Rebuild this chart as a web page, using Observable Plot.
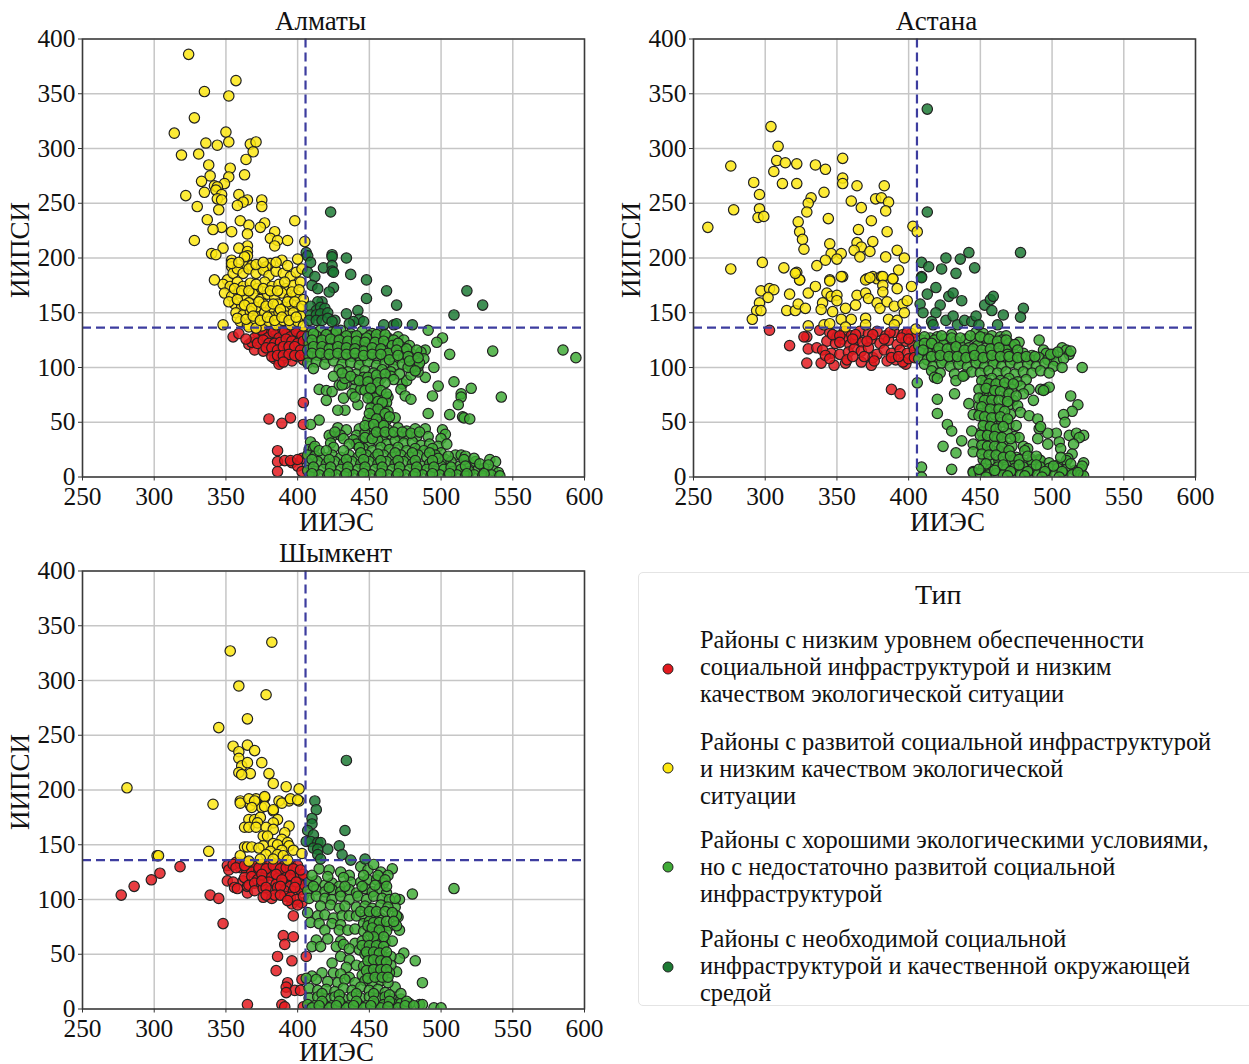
<!DOCTYPE html>
<html lang="ru"><head><meta charset="utf-8">
<script src="https://cdn.jsdelivr.net/npm/d3@7"></script>
<script src="https://cdn.jsdelivr.net/npm/@observablehq/plot@0.6"></script>
<style>
html,body{margin:0;padding:0;background:#fff;overflow:hidden}
#page{position:relative;width:1249px;height:1064px;overflow:hidden;font-family:"Liberation Serif",serif;color:#111}
#page svg.panel{position:absolute;overflow:visible;background:transparent}
#legend{position:absolute;left:638px;top:572px;width:640px;height:434px;border:1px solid #e4e4e4;border-radius:5px;box-sizing:border-box}
.lt{position:absolute;white-space:nowrap;font-size:24.4px;line-height:27px;transform:translateY(-50%)}
.sw{position:absolute;width:9px;height:9px;border-radius:50%;border:1px solid #222;transform:translate(-50%,-50%)}
</style></head><body><div id="page"></div>
<script>
const types=["low","yellow","light","dark"];
const typeColors=["#e3191e","#fde70f","#3fab36","#1c7a33"];
const xTicks=[250,300,350,400,450,500,550,600];
const yTicks=[0,50,100,150,200,250,300,350,400];
const legendTitle="Тип";
const legendLabels=[
 ["Районы с низким уровнем обеспеченности","социальной инфраструктурой и низким","качеством экологической ситуации"],
 ["Районы с развитой социальной инфраструктурой","и низким качеством экологической","ситуации"],
 ["Районы с хорошими экологическими условиями,","но с недостаточно развитой социальной","инфраструктурой"],
 ["Районы с необходимой социальной","инфраструктурой и качественной окружающей","средой"]];

const almatyRed=[355,128,359,131,366,121,370,116,368,123,372,132,376,128,380,133,384,129,388,134,392,130,396,133,400,130,404,132,
374,124,378,120,382,125,386,121,390,126,394,122,398,126,402,122,380,116,384,112,388,117,392,113,396,117,400,114,404,118,
384,108,388,105,392,109,396,106,400,110,404,107,387,103,376,115,378,130,370,127,364,126,402,128,405,112,
375,134,379,127,383,132,387,127,391,133,395,128,399,133,403,129,372,122,376,125,380,122,384,122,388,123,392,126,396,124,400,122,404,124,
378,118,382,118,386,116,390,119,394,119,398,119,402,116,382,110,386,111,390,111,394,112,398,111,402,111,390,105,
404,68,380,53,389,49,395,54,404,48,386,24,386,14,391,15,396,13,400,10,403,17,386,5,403,5,395,15,400,16];
const almatyYellow=[324,386,357,362,335,352,352,348,328,328,314,314,350,315,352,306,336,305,344,303,367,304,371,306,369,297,331,295,319,294,364,290,338,285,353,282,363,276,339,275,352,274,333,270,349,268,342,266,344,265,343,262,335,260,347,258,322,257,359,258,344,254,347,253,365,253,375,253,362,251,358,248,375,247,330,247,345,244,337,235,398,234,360,234,377,232,366,230,374,228,347,228,341,226,365,222,354,224,384,224,381,218,386,216,393,216,405,215,328,216,384,211,365,211,348,209,359,209,365,206,340,204,343,203,365,202,363,201,354,198,389,198,400,199,354,192,364,192,368,193,381,195,378,192,
351,180,355,186,358,190,362,186,366,190,371,186,376,189,380,184,385,188,390,186,395,183,399,187,403,190,
348,176,353,174,358,178,362,174,367,177,372,172,377,178,382,174,387,176,392,172,397,175,402,178,342,180,349,168,
354,165,359,168,364,163,369,167,374,162,379,167,384,164,389,168,394,163,399,166,404,162,
356,158,361,156,366,159,371,155,376,158,381,154,386,158,391,155,396,157,401,154,
357,150,362,148,367,151,372,146,377,150,382,146,387,150,392,147,397,150,402,147,
360,142,365,139,370,143,375,138,380,142,385,139,390,143,395,139,400,142,404,138,348,139,366,137,371,136,
356,172,361,170,366,170,371,176,376,172,381,170,386,170,391,178,396,169,401,171,352,160,358,162,363,157,368,154,373,160,378,156,383,158,388,153,393,160,398,160,403,156,
358,145,364,144,369,147,374,143,379,146,384,143,389,146,394,143,399,146,354,195,359,196,371,194,376,196,385,196,393,193];
const almatyLight=[491,134,501,127,497,123,506,112,536,115,585,116,594,109,489,116,495,100,489,91,509,87,498,83,521,81,514,76,514,73,494,74,542,73,512,66,491,58,506,57,515,55,516,54,520,53,468,54,473,85,476,88,472,80,475,74,479,71,479,93,484,96,484,101,480,100,
415,80,420,79,424,78,420,70,429,84,433,85,431,84,432,72,440,81,438,76,442,66,433,61,428,61,415,52,409,48,
410,133,416,134,423,132,430,134,437,131,445,133,452,131,458,133,407,128,413,129,419,127,425,130,431,127,438,128,444,126,450,129,456,126,463,127,470,128,474,125,
408,122,414,123,420,121,426,124,432,121,438,122,444,120,451,123,457,120,463,122,472,119,478,120,
407,116,412,117,418,115,424,118,430,115,436,116,442,113,448,117,454,114,460,116,466,113,474,115,480,112,486,114,
408,110,414,111,420,109,426,112,432,109,438,110,444,107,450,111,456,108,462,110,468,107,474,109,482,106,488,108,
407,104,413,105,419,103,425,106,431,103,437,104,443,102,449,105,455,102,461,104,467,101,473,103,479,101,485,104,
411,99,429,98,435,96,441,94,447,97,453,95,459,98,465,96,471,94,477,100,482,97,425,92,433,90,440,89,446,91,452,88,458,90,465,92,
448,84,455,82,453,78,457,75,460,72,452,70,455,66,460,64,453,60,458,57,452,55,449,52,457,50,462,52,447,85,444,80,440,73,463,73,462,68,463,60,450,76,454,72,
428,45,434,43,443,44,450,46,456,44,463,43,470,45,476,42,482,44,489,44,458,48,424,37,430,38,441,38,447,40,453,38,459,36,465,39,471,37,477,38,483,37,491,37,501,43,503,39,500,35,
422,38,409,32,423,31,444,33,450,31,456,33,462,30,468,33,474,31,480,32,486,29,492,30,498,28,504,30,
408,25,411,26,425,27,446,26,452,24,458,27,464,25,470,27,476,24,482,26,488,24,494,26,500,22,
407,20,412,19,418,18,424,20,430,18,436,20,442,18,448,20,454,18,460,20,466,18,472,20,478,18,484,20,490,18,496,20,503,16,510,20,514,20,517,19,
408,12,414,14,420,12,426,14,432,12,438,14,444,12,450,14,456,12,462,14,468,12,474,14,480,12,486,10,492,12,500,10,507,14,513,10,520,12,524,14,534,16,538,14,
407,6,412,5,418,7,424,5,430,7,436,5,442,7,448,5,454,7,460,5,466,7,472,5,478,7,484,5,490,7,496,5,502,7,508,5,514,7,520,5,526,7,530,8,536,6,540,4,
409,1,415,2,421,1,427,2,433,1,439,2,445,1,451,2,457,1,463,2,469,1,475,2,481,1,487,2,493,1,499,2,505,1,511,2,517,1,523,2,529,1,535,2,541,1,
411,131,420,130,427,133,434,129,441,129,448,127,455,130,461,130,467,125,410,125,417,125,423,126,429,125,435,124,441,124,447,123,454,123,460,124,466,120,470,122,476,117,
411,119,417,119,422,117,428,119,434,118,440,117,446,115,452,118,458,117,463,113,469,116,477,110,483,116,410,113,416,113,422,112,428,113,434,112,440,113,446,111,452,112,458,112,464,107,470,111,478,106,484,109,
431,95,437,92,443,88,449,91,455,93,461,94,467,89,449,87,456,86,461,86,447,79,451,81,458,79,462,76,449,72,456,69,459,68,451,63,456,62,461,58,450,58,455,53,464,55,447,47,453,48,460,47,
439,34,441,30,443,27,447,36,452,35,455,41,461,41,467,41,473,41,479,40,485,41,426,41,432,35,436,30,412,28,415,24,
420,24,432,24,444,22,456,21,468,22,480,22,492,22,498,17,410,16,422,16,434,16,446,16,458,15,470,15,482,15,494,15,505,19,516,16,523,17,
411,9,423,9,435,9,447,9,459,9,471,9,483,9,495,9,507,9,517,10,527,12,533,11,410,3,422,3,434,3,446,3,458,3,470,3,482,3,494,3,506,3,518,3,530,3];
const almatyDark=[423,242,424,203,424,201,434,200,406,205,407,202,409,196,418,191,424,193,424,188,407,187,412,183,425,187,437,185,448,180,410,175,414,172,425,173,422,169,462,170,518,170,448,163,469,157,529,157,509,148,
417,160,414,160,409,156,413,152,416,155,419,154,409,148,413,148,416,149,421,150,408,143,413,143,417,143,421,145,426,143,434,149,442,152,443,144,446,142,439,142,436,140,460,139,467,139,469,140,480,139,424,142];

const astanaRed=[303,134,329,128,327,128,317,120,330,117,336,118,329,104,339,104,338,134,348,102,356,104,367,105,374,102,375,109,398,103,388,80,394,76,
345,132,350,128,355,133,360,129,366,133,372,131,378,133,384,129,390,132,396,130,402,131,405,128,343,124,349,122,354,126,359,121,363,125,368,123,374,126,380,122,386,125,392,121,398,124,403,120,
340,116,346,113,352,112,358,114,362,117,367,115,372,118,378,112,383,116,388,113,394,116,399,113,404,116,342,111,345,108,357,107,361,110,369,110,376,106,385,106,391,107,396,105,400,108,404,109,
347,130,352,129,363,130,375,130,387,132,399,132,352,123,361,126,371,124,383,126,395,127,400,126,388,109,393,110];
const astanaYellow=[260,228,276,284,278,244,276,190,304,320,309,302,308,289,314,287,322,286,306,279,292,269,312,268,322,268,335,285,342,281,354,291,354,273,354,268,296,258,341,260,364,266,383,266,332,255,330,250,360,252,377,254,381,255,386,251,296,245,295,237,299,238,367,246,329,242,384,243,323,233,344,236,374,234,403,229,406,224,324,224,365,226,385,224,326,217,345,213,364,214,375,215,367,210,327,208,346,204,353,204,362,207,373,206,392,207,366,201,384,201,397,200,350,199,342,198,298,196,336,193,313,191,322,187,393,189,345,180,354,183,324,180,371,181,375,183,378,181,381,183,389,181,
297,170,303,172,306,171,302,164,296,159,294,152,297,152,291,144,317,167,315,152,321,152,323,158,328,154,330,168,335,174,324,180,321,186,343,168,340,159,339,153,347,151,345,179,346,165,350,166,350,161,353,183,356,154,364,166,363,157,370,168,370,180,373,182,382,183,382,175,389,181,392,172,372,163,378,159,380,154,385,160,382,169,390,156,396,158,399,161,402,174,397,150,386,144,392,143,370,145,353,144,360,144,330,138,341,139,345,140,356,137,370,139,390,139,405,135];
const astanaLight=[406,86,420,71,420,58,432,76,442,67,427,48,430,42,444,42,437,33,424,28,433,22,445,30,445,23,430,7,409,9,409,0,445,5,513,74,518,66,514,60,508,57,509,50,503,40,497,40,512,38,517,40,522,38,519,36,515,30,505,32,497,30,506,26,514,21,511,17,522,13,
430,130,447,132,452,131,458,129,464,128,468,129,409,125,415,127,420,128,425,126,433,124,440,126,447,126,453,127,459,124,465,125,470,122,477,123,491,125,
407,120,413,119,418,120,424,121,430,118,436,120,442,118,448,120,454,118,460,121,466,117,472,119,
408,114,414,113,420,115,426,112,432,114,438,112,444,115,450,112,456,114,462,113,468,116,474,112,480,113,486,111,494,116,496,113,507,118,510,116,501,112,512,112,
407,108,413,107,419,109,425,106,431,108,437,106,443,109,449,106,455,108,461,106,467,109,473,107,479,109,485,107,491,109,497,107,503,106,508,108,
411,103,417,101,423,104,429,101,435,103,441,101,447,104,453,101,459,103,465,101,471,104,477,101,483,103,489,101,495,104,501,101,507,100,521,100,
416,97,422,95,432,94,439,93,444,96,450,95,456,97,462,95,468,96,474,94,480,96,486,95,492,97,498,95,418,91,420,90,433,88,438,92,454,88,458,90,464,88,470,90,476,87,482,89,
453,84,458,81,466,82,472,80,478,83,484,80,492,80,495,80,498,82,454,76,452,73,456,73,459,75,467,72,473,70,480,76,487,70,494,79,449,65,455,66,461,64,470,66,476,65,445,57,450,58,455,60,460,57,471,57,478,59,484,56,490,53,
453,50,459,48,465,50,470,48,475,47,491,44,492,46,451,41,456,43,463,39,469,40,474,37,477,36,490,35,452,34,457,32,462,35,466,30,472,28,480,28,483,26,452,25,458,24,463,24,468,22,475,18,481,24,486,16,491,16,
452,16,457,14,463,15,469,13,474,15,480,13,486,14,492,15,498,13,504,11,510,15,452,8,457,7,462,9,468,7,474,8,480,9,486,7,492,9,498,8,504,8,510,7,516,6,520,7,
445,4,450,3,456,2,461,3,466,2,472,3,478,2,484,3,490,2,496,3,502,2,508,3,514,2,520,2,522,1,
411,128,418,125,423,129,430,127,436,127,443,129,450,128,456,126,462,124,468,125,474,121,411,122,416,122,421,118,427,117,433,119,439,116,445,117,451,116,457,117,463,118,469,112,476,116,
410,116,416,110,422,111,428,110,434,110,440,109,446,111,452,109,458,111,464,110,470,110,476,109,482,110,488,110,499,112,504,114,513,115,
451,88,456,85,461,85,467,86,473,85,449,80,454,81,460,79,464,78,470,76,449,72,453,70,458,70,463,70,469,69,475,74,451,64,457,62,463,62,467,60,449,56,453,55,458,54,464,55,469,53,
452,47,457,46,461,44,466,46,450,38,455,38,460,37,465,36,471,35,451,29,455,28,460,28,465,27,470,24,451,21,456,20,461,20,466,18,471,19,477,16,483,19,489,19,506,18,
454,12,466,11,477,11,489,11,501,10,513,12,521,10,449,7,460,6,471,5,483,5,495,5,507,5,518,4,454,0,469,1,481,1,493,0,505,0];
const astanaDark=[413,336,413,242,409,196,414,192,423,190,426,200,433,186,436,199,442,205,446,191,478,205,409,183,409,182,419,173,413,167,428,165,431,168,437,161,422,157,408,158,410,150,419,150,416,142,417,139,426,143,431,147,434,139,439,143,444,142,447,147,449,139,453,157,457,162,459,165,458,152,466,148,462,139,480,154,478,146];

const shymkentRed=[277,104,286,112,298,118,304,124,318,130,339,104,345,101,348,78,390,67,397,66,391,59,386,48,406,48,396,44,385,35,393,24,403,27,392,20,398,17,392,15,402,17,365,4,389,4,391,2,404,2,397,85,396,96,403,97,
351,131,352,127,357,134,360,129,367,128,370,128,351,117,355,116,362,117,356,111,358,110,365,106,365,112,
355,132,360,133,365,134,370,130,375,132,380,131,385,133,390,130,395,132,400,131,364,128,368,125,373,127,378,125,383,128,388,124,393,127,398,124,
363,120,368,121,372,118,377,120,382,122,386,119,391,121,396,118,401,120,405,118,404,123,366,113,370,115,375,113,380,116,385,114,390,115,395,112,400,112,
370,108,376,110,381,108,386,111,391,108,397,108,402,109,405,113,376,102,382,101,384,104,391,103,395,102,399,100,404,103,
357,129,363,131,373,129,378,128,383,131,388,128,392,129,397,128,402,127,375,123,385,123,395,122,375,117,389,118,399,116,378,111,388,112,398,111,378,104,388,104,393,99,400,95];
const shymkentYellow=[281,202,302,140,338,144,341,187,353,327,359,295,382,335,378,287,365,265,345,257,355,240,359,235,365,241,370,236,359,229,361,222,365,225,367,215,359,216,361,214,375,225,380,215,383,206,392,203,401,201,401,190,394,190,387,190,377,193,371,192,360,190,367,186,375,184,383,181,
360,188,366,192,370,190,368,184,377,194,377,185,383,182,389,188,395,192,400,191,366,173,370,173,374,175,372,170,386,173,383,170,363,166,366,166,371,166,378,166,383,164,394,167,391,161,376,158,379,158,389,155,393,152,383,151,386,150,363,148,365,148,368,148,376,149,394,149,373,147,303,140,360,140,381,144,389,145,397,145,403,142,378,141,386,141,390,140,374,137,383,137,393,136,366,135];
const shymkentLight=[509,110,480,105,466,128,474,51,471,46,482,44,487,24,469,34,468,20,478,5,485,4,487,4,495,1,500,1,471,100,468,93,470,84,471,72,
415,128,422,127,430,125,436,122,444,130,449,127,453,132,458,125,463,122,408,116,413,117,419,113,424,115,429,112,437,116,444,116,449,118,455,118,460,115,
407,108,413,109,419,107,424,109,430,107,436,109,441,106,447,110,452,107,457,110,462,106,408,101,413,103,419,101,424,100,430,103,436,100,442,103,448,100,453,103,459,101,464,100,468,101,
416,94,423,95,429,92,433,94,441,93,447,94,452,92,458,95,463,93,407,88,414,85,419,86,425,83,431,85,436,85,441,85,447,84,453,86,458,83,469,85,
409,79,415,78,424,78,430,77,446,78,450,80,455,76,459,74,464,76,469,76,419,72,429,72,435,72,440,73,446,71,451,70,456,69,462,71,413,63,421,64,430,62,440,60,445,62,452,61,456,62,461,61,466,62,
410,57,416,57,427,57,432,59,436,55,443,54,448,55,453,56,458,54,430,48,436,45,447,50,450,47,455,49,461,47,465,48,424,42,434,38,441,40,446,39,452,39,456,40,461,41,465,40,
410,30,417,33,425,33,430,32,436,29,445,31,450,33,456,33,460,32,464,33,406,28,413,27,421,25,428,24,433,27,440,24,447,26,452,24,458,26,463,24,
408,19,414,17,420,18,426,16,432,19,438,17,444,20,450,17,456,18,461,15,408,10,414,11,420,9,426,11,432,9,438,11,444,10,450,11,456,10,461,11,466,9,472,9,
407,4,412,3,418,5,424,3,430,5,436,3,442,5,448,3,454,4,460,4,466,5,472,5,410,1,416,1,422,1,428,1,434,1,440,1,446,1,452,1,458,1,464,1,470,1,476,1,
410,122,421,121,432,120,446,122,456,122,461,118,411,112,422,111,433,112,445,112,454,113,462,112,444,89,450,89,455,89,461,89,466,88,449,76,453,79,457,79,462,80,467,80,452,74,457,72,460,66,453,66,449,66,445,58,450,58,455,58,460,57,448,52,453,52,457,51,462,52,449,44,453,45,458,44,462,43,
448,35,453,36,458,36,462,36,449,28,454,29,459,29,463,29,417,14,429,13,441,14,453,14,464,13,472,14,417,7,429,7,441,7,453,7,464,7,476,7,415,3,427,3,439,3,451,3,463,2,475,3,481,3];
const shymkentDark=[434,227,433,163,412,190,413,182,410,174,410,169,407,163,411,159,406,153,409,153,414,152,416,152,411,147,414,146,414,141,421,146,429,149,431,141,437,136,447,137,416,137];

const panels=[
 {title:"Алматы",titleDx:-13,left:0,top:0,vx:405.5,hy:136.5,labelDy:45,sets:[almatyRed,almatyYellow,almatyLight,almatyDark]},
 {title:"Астана",titleDx:-8,left:611,top:0,vx:405.8,hy:136.5,labelDy:45,sets:[astanaRed,astanaYellow,astanaLight,astanaDark]},
 {title:"Шымкент",titleDx:2,left:0,top:531.5,vx:405.5,hy:136,labelDy:43,sets:[shymkentRed,shymkentYellow,shymkentLight,shymkentDark]}
];
const page=document.getElementById("page");
const tickFs=25.4, labelFs=27;
for(const p of panels){
 const rows=[];
 p.sets.forEach((flat,k)=>{for(let i=0;i<flat.length;i+=2)rows.push({x:flat[i],y:flat[i+1],type:types[k]});});
 const svg=Plot.plot({
  width:612,height:530,marginLeft:82,marginRight:28,marginTop:38.5,marginBottom:53.5,
  style:{fontFamily:'"Liberation Serif",serif',fontSize:tickFs+"px",color:"#111",background:"transparent",overflow:"visible"},
  x:{domain:[250,600]},y:{domain:[0,400]},
  color:{domain:types,range:typeColors},
  marks:[
   Plot.gridX(xTicks,{stroke:"#c6c6c6",strokeOpacity:1,strokeWidth:1.5}),
   Plot.gridY(yTicks,{stroke:"#c6c6c6",strokeOpacity:1,strokeWidth:1.5}),
   Plot.dot(rows,{x:"x",y:"y",fill:"type",r:5.2,stroke:"#222",strokeWidth:1.2,fillOpacity:0.84,clip:"frame"}),
   Plot.ruleX([p.vx],{stroke:"#3d3d9f",strokeWidth:2.2,strokeDasharray:"9 5"}),
   Plot.ruleY([p.hy],{stroke:"#3d3d9f",strokeWidth:2.2,strokeDasharray:"9 5"}),
   Plot.frame({stroke:"#3a3a3a",strokeWidth:1.5}),
   Plot.axisX(xTicks,{tickSize:4,tickPadding:6,stroke:"#333",fontSize:tickFs,label:null}),
   Plot.axisY(yTicks,{tickSize:4,tickPadding:3,stroke:"#333",fontSize:tickFs,label:null}),
   Plot.text([p.title],{frameAnchor:"top",dx:p.titleDx,dy:-18,lineAnchor:"middle",fontSize:labelFs,fill:"#111"}),
   Plot.text(["ИИЭС"],{frameAnchor:"bottom",dx:3,dy:p.labelDy,lineAnchor:"middle",fontSize:labelFs,fill:"#111"}),
   Plot.text(["ИИПСИ"],{frameAnchor:"left",textAnchor:"middle",dx:-62,dy:-8,rotate:-90,fontSize:labelFs,fill:"#111"})
  ]
 });
 svg.classList.add("panel");
 svg.style.left=p.left+"px";svg.style.top=p.top+"px";
 page.appendChild(svg);
}
const lg=document.createElement("div");lg.id="legend";page.appendChild(lg);
function addLine(txt,x,y,extra){const d=document.createElement("div");d.className="lt";d.textContent=txt;d.style.left=x+"px";d.style.top=y+"px";if(extra)d.style.fontSize=extra;page.appendChild(d);return d;}
addLine(legendTitle,915,594,"28px");
const lineY=[[639,666,693],[741,768,795],[839,866,893],[938,965,992]];
const swatchY=[669,768,867,967];
legendLabels.forEach((ls,i)=>{
 ls.forEach((t,j)=>addLine(t,700,lineY[i][j]));
 const s=document.createElement("div");s.className="sw";s.style.left="668px";s.style.top=swatchY[i]+"px";s.style.background=typeColors[i];page.appendChild(s);
});
</script></body></html>
